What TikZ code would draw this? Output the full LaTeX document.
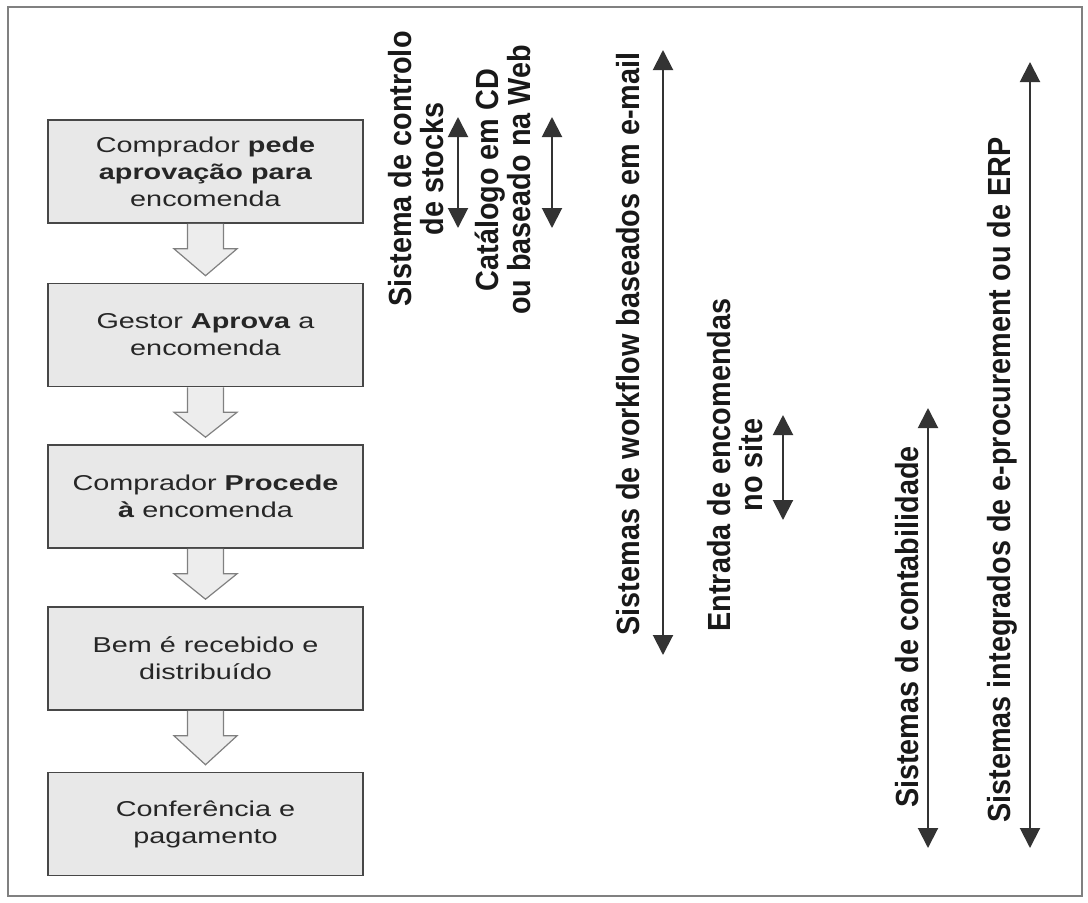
\documentclass[tikz,border=0pt]{standalone}
\usepackage{fontspec}
\setmainfont{Liberation Sans}
\newfontfamily\boxfont[FakeStretch=1.34]{Liberation Sans}
\newfontfamily\sidefont[FakeStretch=0.9]{Liberation Sans}
\usetikzlibrary{arrows.meta,calc}

\begin{document}
\begin{tikzpicture}[x=1pt,y=-1pt,
  stepbox/.style={draw=black!72, line width=1.6pt, fill=black!9,
    minimum width=315pt, minimum height=103pt, inner sep=0pt,
    align=center, text=black!85,
    font=\boxfont\fontsize{21.5}{27}\selectfont},
  flowarrow/.style={draw=black!50, line width=1.2pt, fill=black!7},
  sidelabel/.style={rotate=90, align=center, inner sep=0pt, text=black!90,
    font=\sidefont\bfseries\fontsize{32}{32}\selectfont},
  span/.style={line width=2pt, draw=black!80,
    {Triangle[width=20pt,length=20pt]}-{Triangle[width=20pt,length=20pt]}}
]
% page and frame
\useasboundingbox (0,0) rectangle (1088,903);
\draw[black!50, line width=2pt] (8,7) rectangle (1082,896);

% process steps
\node[stepbox] (s1) at (205.5,171.5) {Comprador \textbf{pede}\\ \textbf{aprovação para}\\ encomenda};
\node[stepbox] (s2) at (205.5,335) {Gestor \textbf{Aprova} a\\ encomenda};
\node[stepbox] (s3) at (205.5,496.5) {Comprador \textbf{Procede}\\ \textbf{à} encomenda};
\node[stepbox] (s4) at (205.5,658.5) {Bem é recebido e\\ distribuído};
\node[stepbox] (s5) at (205.5,824) {Conferência e\\ pagamento};

% block arrows between steps
\foreach \a/\b in {s1/s2, s2/s3, s3/s4, s4/s5}{
  \draw[flowarrow]
    ($(\a.south)+(-18,0)$) -- ($(\a.south)+(-18,25)$) -- ($(\a.south)+(-31.5,25)$)
    -- ($(\b.north)+(0,-7)$)
    -- ($(\a.south)+(31.5,25)$) -- ($(\a.south)+(18,25)$) -- ($(\a.south)+(18,0)$);
}

% supporting systems
\node[sidelabel] (l1) at (416,169) {Sistema de controlo\\ de stocks};
\node[sidelabel] (l2) at (503,180) {Catálogo em CD\\ ou baseado na Web};
\node[sidelabel] (l3) at (628,344) {Sistemas de workflow baseados em e-mail};
\node[sidelabel] (l4) at (735,465) {Entrada de encomendas\\ no site};
\node[sidelabel] (l5) at (907,627) {Sistemas de contabilidade};
\node[sidelabel] (l6) at (1002,480) {Sistemas integrados de e-procurement ou de ERP};

% extent of each system
\coordinate (a1t) at (458,117);  \coordinate (a1b) at (458,228);
\coordinate (a2t) at (552,117);  \coordinate (a2b) at (552,228);
\coordinate (a3t) at (663,50);   \coordinate (a3b) at (663,655);
\coordinate (a4t) at (783,415);  \coordinate (a4b) at (783,520);
\coordinate (a5t) at (928,408);  \coordinate (a5b) at (928,848);
\coordinate (a6t) at (1030,62);  \coordinate (a6b) at (1030,848);
\foreach \i in {1,...,6}{
  \draw[span] (a\i t) -- (a\i b);
}
\end{tikzpicture}
\end{document}
